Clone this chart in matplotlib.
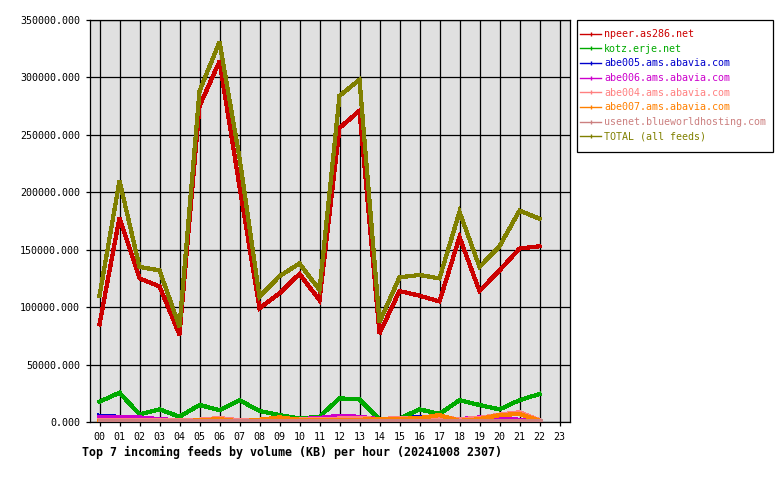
import matplotlib
matplotlib.use("Agg")
import matplotlib.pyplot as plt
from matplotlib.patches import Rectangle
from matplotlib.ticker import FormatStrFormatter, MultipleLocator

plt.rcParams['font.family'] = ['DejaVu Sans Mono']

hours = list(range(23))
hour_labels = [f"{h:02d}" for h in range(24)]

npeer = [85000, 178000, 125000, 118000, 76000, 275000, 314000, 205000, 99000, 112000,
         129000, 106000, 256000, 271000, 77000, 114000, 110000, 105000, 161000, 114000,
         132000, 151000, 153000]
kotz = [17700, 25500, 6700, 11000, 4600, 14800, 10400, 19000, 9600, 6000,
        3000, 4600, 20600, 19700, 2300, 3000, 11000, 7000, 19000, 14800,
        11000, 19000, 24400]
abe005 = [5500, 4500, 3500, 1500, 1000, 800, 500, 800, 1500, 2000,
          2500, 2500, 4000, 3500, 2000, 2500, 4500, 3000, 2500, 3000,
          2500, 1500, 500]
abe006 = [4500, 4500, 4000, 2500, 1500, 1500, 500, 1500, 1500, 2500,
          2500, 3500, 5500, 4500, 2500, 2000, 3500, 3000, 2500, 4000,
          3000, 2000, 500]
abe004 = [1500, 1500, 1500, 2000, 1500, 2000, 3500, 1500, 1000, 2000,
          2500, 2500, 3000, 3500, 2500, 3500, 3000, 4000, 2500, 3500,
          6500, 8500, 1500]
abe007 = [500, 500, 500, 1000, 500, 1500, 2500, 500, 2000, 4000,
          2000, 1500, 1500, 2000, 2500, 2500, 3500, 6000, 1000, 2500,
          6000, 7000, 1000]
usenet = [1000, 1000, 1000, 1000, 1000, 1000, 1000, 1000, 1000, 1000,
          1000, 1000, 1000, 1000, 1000, 1000, 1000, 1000, 1000, 1000,
          1000, 1000, 1000]
total = [110000, 210000, 135000, 132000, 83000, 288000, 331000, 230000, 109000, 127000,
         138000, 115000, 284000, 298000, 87000, 126000, 128000, 125000, 183000, 135000,
         153000, 184000, 177000]

series = [
    ("npeer.as286.net", npeer, "#cc0000"),
    ("kotz.erje.net", kotz, "#00aa00"),
    ("abe005.ams.abavia.com", abe005, "#0000cc"),
    ("abe006.ams.abavia.com", abe006, "#cc00cc"),
    ("abe004.ams.abavia.com", abe004, "#ff8080"),
    ("abe007.ams.abavia.com", abe007, "#ff8000"),
    ("usenet.blueworldhosting.com", usenet, "#cc8080"),
    ("TOTAL (all feeds)", total, "#808000"),
]

fig = plt.figure(figsize=(7.8, 4.8), dpi=100)
ax = fig.add_axes([90/780, 58/480, 480/780, 402/480])
ax.set_facecolor("#e0e0e0")

for name, vals, col in series:
    ax.plot(hours, vals, color=col, lw=2.3, solid_joinstyle='miter', antialiased=False, zorder=3)

ax.set_xlim(-0.475, 23.525)
ax.set_ylim(0, 350000)
ax.set_xticks(range(24))
ax.set_xticklabels(hour_labels)
ax.yaxis.set_major_locator(MultipleLocator(50000))
ax.yaxis.set_major_formatter(FormatStrFormatter('%.3f'))
ax.grid(True, color="black", lw=0.9, zorder=1)
ax.set_axisbelow(True)
ax.tick_params(axis='both', direction='out', length=3, width=0.9, labelsize=7.2, pad=4, colors='black')
for s in ax.spines.values():
    s.set_linewidth(0.9)

# legend box
fig.patches.append(Rectangle((577/780, 1 - 152/480), 196/780, 132/480, transform=fig.transFigure,
                             facecolor='white', edgecolor='black', lw=0.9, zorder=0))

handles = []
for name, vals, col in series:
    h, = ax.plot([], [], color=col, lw=1, marker='|', markersize=3, label=name)
    handles.append(h)
leg = fig.legend(handles=handles, loc='upper left', bbox_to_anchor=(575/780, 1 - 24/480),
                 frameon=False, fontsize=7.2, labelcolor='linecolor', handlelength=2.1,
                 handletextpad=0.3, borderpad=0.5, labelspacing=0.47, borderaxespad=0, numpoints=1)

fig.text(82/780, 1 - 452/480, "Top 7 incoming feeds by volume (KB) per hour (20241008 2307)",
         fontsize=8.4, fontweight='bold', va='center', ha='left')

fig.savefig("out.png", dpi=100, facecolor='white')
